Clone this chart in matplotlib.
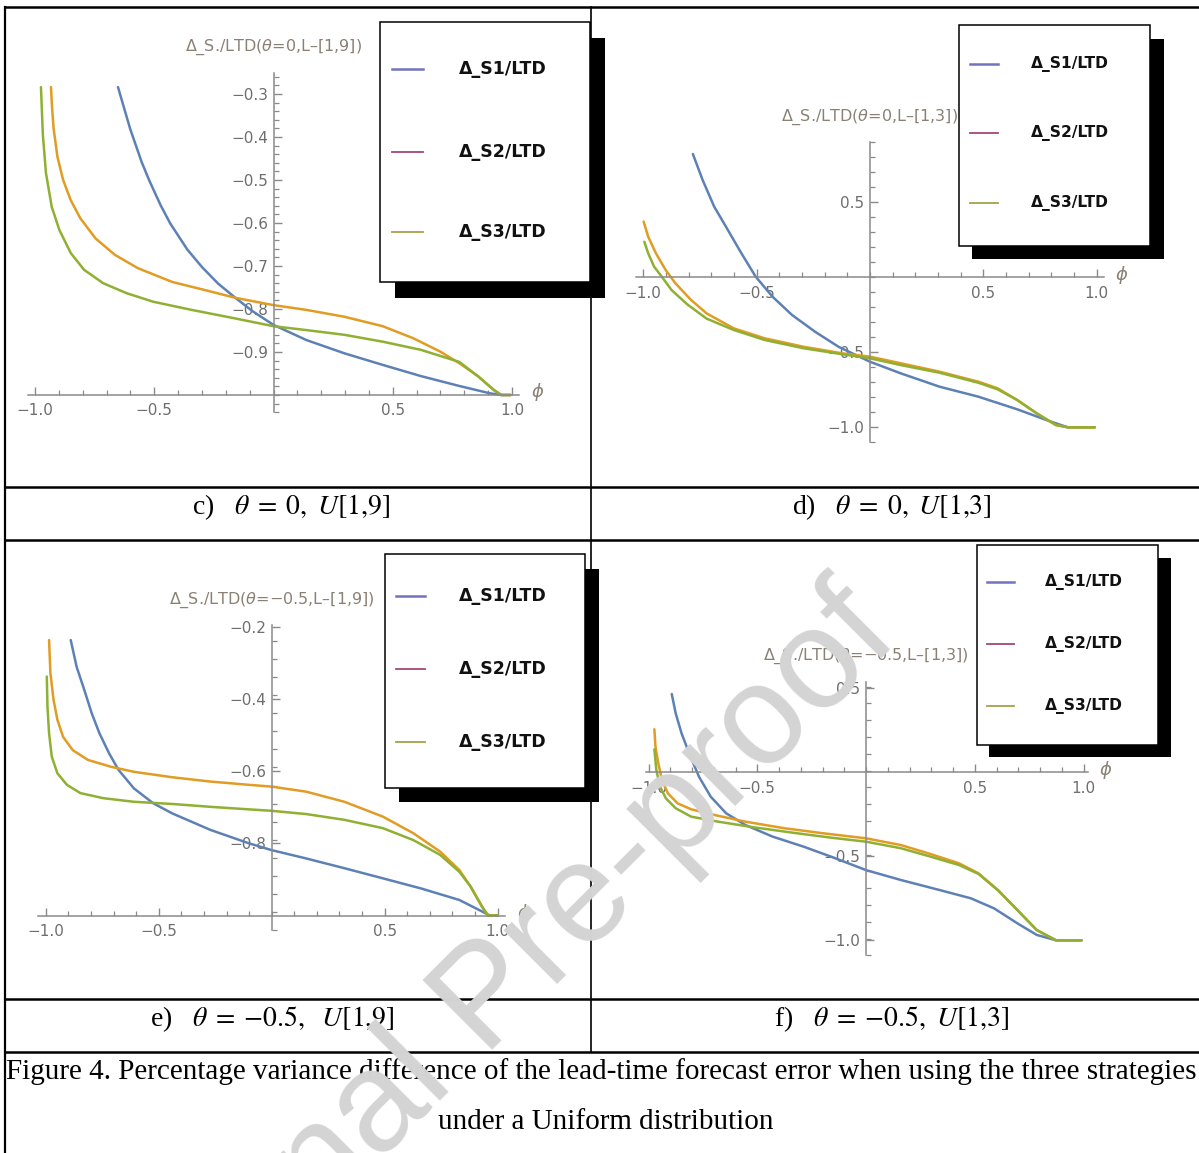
import numpy as np
import matplotlib.pyplot as plt
from matplotlib.patches import Rectangle
from matplotlib.ticker import FixedLocator, FixedFormatter

# ---- values (phi, Delta_S/LTD) ----
# c) theta = 0, U[1,9]
c_phi1 = [-0.652, -0.601, -0.553, -0.521, -0.473, -0.433, -0.361, -0.299, -0.232, -0.160,
          -0.088, 0.0, 0.137, 0.297, 0.458, 0.618, 0.779, 0.907, 0.955, 0.995]
c_s1 = [-0.284, -0.381, -0.458, -0.501, -0.559, -0.601, -0.662, -0.703, -0.741, -0.774,
        -0.805, -0.837, -0.872, -0.903, -0.930, -0.956, -0.979, -0.996, -1.0, -1.0]
c_phi2 = [-0.933, -0.928, -0.922, -0.906, -0.882, -0.850, -0.810, -0.746, -0.665, -0.569, -0.425, -0.280,
          -0.160, 0.0, 0.137, 0.297, 0.458, 0.586, 0.699, 0.779, 0.859, 0.923, 0.955, 0.995]
c_s2 = [-0.284, -0.335, -0.380, -0.446, -0.500, -0.547, -0.589, -0.636, -0.674, -0.705, -0.737, -0.757,
        -0.774, -0.791, -0.802, -0.818, -0.840, -0.868, -0.899, -0.926, -0.957, -0.988, -1.0, -1.0]
c_phi3 = [-0.975, -0.971, -0.967, -0.954, -0.930, -0.898, -0.850, -0.794, -0.714, -0.617, -0.505, -0.344,
          -0.160, 0.0, 0.137, 0.297, 0.458, 0.618, 0.779, 0.859, 0.923, 0.955, 0.995]
c_s3 = [-0.284, -0.340, -0.395, -0.484, -0.562, -0.616, -0.670, -0.709, -0.740, -0.763, -0.783, -0.802,
        -0.822, -0.840, -0.849, -0.860, -0.876, -0.895, -0.923, -0.957, -0.988, -1.0, -1.0]

# d) theta = 0, U[1,3]
d_phi1 = [-0.781, -0.738, -0.687, -0.635, -0.567, -0.504, -0.430, -0.344, -0.242, -0.139,
          0.0, 0.135, 0.306, 0.478, 0.649, 0.786, 0.872, 0.991]
d_s1 = [0.822, 0.649, 0.471, 0.337, 0.160, 0.004, -0.129, -0.251, -0.363, -0.463,
        -0.563, -0.640, -0.729, -0.796, -0.880, -0.956, -1.0, -1.0]
d_phi2 = [-0.998, -0.978, -0.944, -0.901, -0.858, -0.789, -0.721, -0.601, -0.464, -0.293, -0.122,
          0.0, 0.135, 0.306, 0.478, 0.563, 0.649, 0.735, 0.820, 0.872, 0.991]
d_s2 = [0.371, 0.271, 0.160, 0.049, -0.040, -0.151, -0.240, -0.340, -0.407, -0.463, -0.507,
        -0.529, -0.573, -0.629, -0.696, -0.740, -0.818, -0.907, -0.985, -1.0, -1.0]
d_phi3 = [-0.995, -0.978, -0.952, -0.918, -0.875, -0.806, -0.721, -0.601, -0.464, -0.293, -0.122,
          0.0, 0.135, 0.306, 0.478, 0.563, 0.649, 0.735, 0.820, 0.872, 0.991]
d_s3 = [0.237, 0.160, 0.071, 0.004, -0.085, -0.180, -0.275, -0.351, -0.418, -0.473, -0.513,
        -0.540, -0.585, -0.636, -0.703, -0.747, -0.818, -0.907, -0.985, -1.0, -1.0]

# e) theta = -0.5, U[1,9]
e_phi1 = [-0.890, -0.864, -0.830, -0.797, -0.763, -0.720, -0.678, -0.610, -0.525, -0.441, -0.271,
          -0.101, 0.0, 0.153, 0.322, 0.492, 0.661, 0.831, 0.932, 0.966, 1.0]
e_s1 = [-0.237, -0.311, -0.375, -0.440, -0.495, -0.551, -0.597, -0.648, -0.689, -0.717, -0.763,
        -0.800, -0.819, -0.842, -0.869, -0.897, -0.925, -0.957, -0.989, -1.0, -1.0]
e_phi2 = [-0.986, -0.980, -0.966, -0.949, -0.924, -0.881, -0.814, -0.712, -0.610, -0.441, -0.271,
          -0.101, 0.0, 0.153, 0.322, 0.492, 0.627, 0.746, 0.831, 0.881, 0.932, 0.958, 1.0]
e_s2 = [-0.237, -0.329, -0.403, -0.458, -0.505, -0.542, -0.569, -0.588, -0.602, -0.617, -0.629,
        -0.638, -0.643, -0.657, -0.685, -0.726, -0.772, -0.823, -0.874, -0.920, -0.976, -1.0, -1.0]
e_phi3 = [-0.996, -0.993, -0.986, -0.974, -0.949, -0.907, -0.847, -0.746, -0.610, -0.441, -0.271,
          -0.101, 0.0, 0.153, 0.322, 0.492, 0.627, 0.746, 0.831, 0.881, 0.932, 0.958, 1.0]
e_s3 = [-0.338, -0.422, -0.495, -0.560, -0.606, -0.638, -0.661, -0.675, -0.685, -0.691, -0.699,
        -0.706, -0.710, -0.719, -0.735, -0.758, -0.791, -0.832, -0.879, -0.920, -0.976, -1.0, -1.0]

# f) theta = -0.5, U[1,3]
f_phi1 = [-0.893, -0.875, -0.848, -0.813, -0.768, -0.714, -0.643, -0.554, -0.429, -0.286,
          -0.161, 0.0, 0.160, 0.339, 0.482, 0.589, 0.696, 0.785, 0.874, 0.991]
f_s1 = [0.466, 0.351, 0.232, 0.113, -0.026, -0.145, -0.244, -0.314, -0.383, -0.443,
        -0.502, -0.582, -0.641, -0.701, -0.750, -0.810, -0.899, -0.968, -1.0, -1.0]
f_phi2 = [-0.973, -0.968, -0.955, -0.938, -0.911, -0.866, -0.804, -0.697, -0.554, -0.375, -0.197,
          0.0, 0.160, 0.286, 0.428, 0.517, 0.607, 0.696, 0.785, 0.874, 0.991]
f_s2 = [0.256, 0.152, 0.054, -0.046, -0.125, -0.185, -0.220, -0.254, -0.294, -0.333, -0.363,
        -0.393, -0.433, -0.482, -0.542, -0.601, -0.701, -0.820, -0.939, -1.0, -1.0]
f_phi3 = [-0.973, -0.964, -0.947, -0.920, -0.875, -0.804, -0.679, -0.518, -0.340, -0.161,
          0.0, 0.160, 0.286, 0.428, 0.517, 0.607, 0.696, 0.785, 0.874, 0.991]
f_s3 = [0.137, 0.014, -0.086, -0.155, -0.214, -0.264, -0.294, -0.327, -0.359, -0.389,
        -0.413, -0.452, -0.498, -0.552, -0.605, -0.703, -0.820, -0.939, -1.0, -1.0]

series_names = ['\u0394_S1/LTD', '\u0394_S2/LTD', '\u0394_S3/LTD']
y_labels = ['\u0394_S./LTD($\\theta$=0,L\u2013[1,9])', '\u0394_S./LTD($\\theta$=0,L\u2013[1,3])',
            '\u0394_S./LTD($\\theta$=\u22120.5,L\u2013[1,9])', '\u0394_S./LTD($\\theta$=\u22120.5,L\u2013[1,3])']
captions = [r'c)   $\theta\;=\;0,\ U[1{,}9]$', r'd)   $\theta\;=\;0,\ U[1{,}3]$',
            r'e)   $\theta\;=\;{-0.5},\ \ U[1{,}9]$', r'f)   $\theta\;=\;{-0.5},\ U[1{,}3]$']
fig_caption1 = ('Figure 4. Percentage variance difference of the lead-time forecast error '
                'when using the three strategies')
fig_caption2 = 'under a Uniform distribution'

curve_colors = ['#5E81B5', '#E19C24', '#8FB032']
legend_colors = ['#7272BE', '#A3467A', '#A3A34A']
axis_gray = '#8a8a8a'
label_gray = '#6e6e6e'

W, H = 1199, 1153
fig = plt.figure(figsize=(W / 100, H / 100), dpi=100)

# panel geometry in pixels: x-origin, px per unit, y-origin, px per unit
panels = [
    dict(ox=273.5, sx=238.5, oy=-35.0, sy=430, ylim=(-1.06, -0.24), xcross=-1.0,
         xb=(-1.03, 1.03), yb=(-1.04, -0.25), ymaj=[-0.9, -0.8, -0.7, -0.6, -0.5, -0.4, -0.3], ystep=0.02,
         data=[(c_phi1, c_s1), (c_phi2, c_s2), (c_phi3, c_s3)]),
    dict(ox=870.0, sx=226.8, oy=277.3, sy=150, ylim=(-1.13, 0.95), xcross=0.0,
         xb=(-1.03, 1.03), yb=(-1.1, 0.9), ymaj=[-1.0, -0.5, 0.5], ystep=0.1,
         data=[(d_phi1, d_s1), (d_phi2, d_s2), (d_phi3, d_s3)]),
    dict(ox=271.7, sx=225.8, oy=554.5, sy=361, ylim=(-1.06, -0.17), xcross=-1.0,
         xb=(-1.035, 1.035), yb=(-1.04, -0.195), ymaj=[-0.8, -0.6, -0.4, -0.2], ystep=0.05,
         data=[(e_phi1, e_s1), (e_phi2, e_s2), (e_phi3, e_s3)]),
    dict(ox=866.0, sx=217.5, oy=772.3, sy=168, ylim=(-1.12, 0.58), xcross=0.0,
         xb=(-1.01, 1.02), yb=(-1.09, 0.54), ymaj=[-1.0, -0.5, 0.5], ystep=0.1,
         data=[(f_phi1, f_s1), (f_phi2, f_s2), (f_phi3, f_s3)]),
]

xmaj = [-1.0, -0.5, 0.5, 1.0]
for p, ylab in zip(panels, y_labels):
    xlim = (-1.1, 1.1)
    left = p['ox'] + p['sx'] * xlim[0]
    right = p['ox'] + p['sx'] * xlim[1]
    top = p['oy'] - p['sy'] * p['ylim'][1]
    bottom = p['oy'] - p['sy'] * p['ylim'][0]
    ax = fig.add_axes([left / W, 1 - bottom / H, (right - left) / W, (bottom - top) / H])
    ax.set_xlim(xlim)
    ax.set_ylim(p['ylim'])
    ax.patch.set_alpha(0)

    for (phi, vals), col in zip(p['data'], curve_colors):
        ax.plot(phi, vals, color=col, lw=1.8, solid_capstyle='round', solid_joinstyle='round')

    for s in ['top', 'right']:
        ax.spines[s].set_visible(False)
    ax.spines['left'].set_position(('data', 0))
    ax.spines['bottom'].set_position(('data', p['xcross']))
    ax.spines['bottom'].set_bounds(*p['xb'])
    ax.spines['left'].set_bounds(*p['yb'])
    for s in ['left', 'bottom']:
        ax.spines[s].set_color(axis_gray)
        ax.spines[s].set_linewidth(1.1)

    ax.xaxis.set_major_locator(FixedLocator(xmaj))
    ax.xaxis.set_major_formatter(FixedFormatter([f'{v:.1f}'.replace('-', '\u2212') for v in xmaj]))
    ax.xaxis.set_minor_locator(FixedLocator(np.round(np.arange(-1.0, 1.001, 0.1), 3)))
    ax.yaxis.set_major_locator(FixedLocator(p['ymaj']))
    ax.yaxis.set_major_formatter(FixedFormatter([f'{v:.1f}'.replace('-', '\u2212') for v in p['ymaj']]))
    ax.yaxis.set_minor_locator(FixedLocator(np.round(np.arange(p['yb'][0], p['yb'][1] + 1e-6, p['ystep']), 3)))
    ax.tick_params(which='both', direction='in', colors=axis_gray, labelcolor=label_gray, labelsize=11)
    ax.tick_params(which='major', length=6, width=1.0)
    ax.tick_params(which='minor', length=3.5, width=0.9)
    ax.tick_params(axis='x', pad=6)
    ax.tick_params(axis='y', pad=4)

    ax.annotate(ylab, xy=(0, p['yb'][1]), xytext=(0, 18), textcoords='offset points',
                ha='center', va='center', fontsize=11.5, color='#8a8074',
                math_fontfamily='dejavusans', annotation_clip=False)
    ax.annotate(r'$\phi$', xy=(p['xb'][1], p['xcross']), xytext=(13, 2), textcoords='offset points',
                ha='center', va='center', fontsize=13, color='#8a8074',
                math_fontfamily='dejavusans', annotation_clip=False)

# overlay in pixel coordinates for the table, legends and captions
lay = fig.add_axes([0, 0, 1, 1], zorder=10)
lay.set_xlim(0, W)
lay.set_ylim(H, 0)
lay.axis('off')
lay.patch.set_alpha(0)

# table rules
for y in [7, 487, 540, 999, 1052]:
    lay.plot([5, W], [y, y], color='black', lw=1.8, solid_capstyle='butt')
lay.plot([5, 5], [7, H], color='black', lw=1.6)
lay.plot([591, 591], [7, 1052], color='black', lw=1.2)

# legends: box, shadow, row positions, sample line span, text left, fontsize
legends = [
    dict(box=(380, 22, 590, 282), shadow=(395, 38, 605, 298), rows=[69, 152, 232],
         line=(392, 423), tx=459, fs=12.5),
    dict(box=(959, 25, 1150, 246), shadow=(972, 39, 1164, 259), rows=[64, 133, 203],
         line=(970, 998), tx=1031, fs=11.2),
    dict(box=(385, 554, 585, 788), shadow=(399, 569, 599, 802), rows=[596, 669, 742],
         line=(396, 425), tx=459, fs=12.5),
    dict(box=(977, 545, 1158, 745), shadow=(989, 558, 1171, 757), rows=[582, 644, 706],
         line=(987, 1014), tx=1045, fs=11.2),
]
for lg in legends:
    x0, y0, x1, y1 = lg['shadow']
    lay.add_patch(Rectangle((x0, y0), x1 - x0, y1 - y0, facecolor='black', edgecolor='none', zorder=2))
    x0, y0, x1, y1 = lg['box']
    lay.add_patch(Rectangle((x0, y0), x1 - x0, y1 - y0, facecolor='white', edgecolor='black',
                            lw=1.1, zorder=3))
    for name, col, ry, lw in zip(series_names, legend_colors, lg['rows'], [1.8, 1.3, 1.3]):
        lay.plot(lg['line'], [ry, ry], color=col, lw=lw, zorder=4)
        lay.text(lg['tx'], ry, name, ha='left', va='center', fontsize=lg['fs'], fontweight='bold',
                 color='#111111', zorder=4)

# panel captions
cap_pos = [(291, 507), (892, 507), (272, 1019), (891, 1019)]
for (cx, cy), cap in zip(cap_pos, captions):
    lay.text(cx, cy, cap, ha='center', va='center', fontsize=20, family='Liberation Serif',
             math_fontfamily='stix', color='black')

lay.text(6, 1072, fig_caption1, ha='left', va='center', fontsize=21, family='Liberation Serif', color='black')
lay.text(606, 1122, fig_caption2, ha='center', va='center', fontsize=21, family='Liberation Serif', color='black')

# watermark
lay.text(489, 1001, 'Journal Pre-proof', rotation=45, rotation_mode='anchor', ha='center', va='center',
         fontsize=102, color='#d4d4d4', family='Liberation Sans', zorder=50)

fig.savefig('out.png', dpi=100)
